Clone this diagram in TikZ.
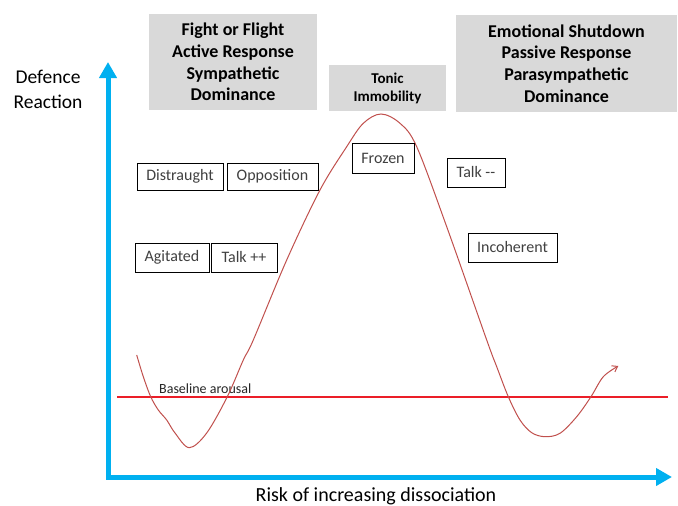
\documentclass[tikz,border=0pt]{standalone}
\usepackage{fontspec}
\setmainfont{Carlito}
\usetikzlibrary{arrows.meta}
\definecolor{axisblue}{RGB}{0,176,240}
\definecolor{curvered}{RGB}{192,80,77}
\definecolor{blred}{RGB}{235,30,40}
\definecolor{headgray}{RGB}{217,217,217}
\definecolor{labelgray}{RGB}{64,64,64}
\tikzset{
  headbox/.style={fill=headgray, draw=none, align=center, inner sep=0pt,
    font=\bfseries\fontsize{18}{21.7}\selectfont},
  smallhead/.style={headbox, font=\bfseries\fontsize{15}{18}\selectfont},
  labelbox/.style={draw=black, line width=1pt, fill=white, text=labelgray,
    inner sep=0pt, minimum height=28pt, font=\fontsize{16}{19}\selectfont},
  axis/.style={draw=axisblue, line width=5pt, line join=miter,
    {Triangle[length=16pt,width=17pt]}-{Triangle[length=16pt,width=17pt]}},
  curve/.style={draw=curvered, line width=1pt, -{Straight Barb[length=5pt,width=7pt]}},
  redline/.style={color=blred, line width=1.1pt},
  axislabel/.style={font=\fontsize{19.5}{25}\selectfont, align=center, inner sep=0pt}
}
\begin{document}
\begin{tikzpicture}[x=1pt,y=-1pt]
\useasboundingbox (0,0) rectangle (678,506);

% axes
\coordinate (ytop) at (108,62);
\coordinate (origin) at (108,477);
\coordinate (xend) at (672,477);
\draw[axis] (ytop) -- (origin) -- (xend);

\node[axislabel] (ylab) at (48,89.5) {Defence\\Reaction};
\node[axislabel, font=\fontsize{20}{24}\selectfont, anchor=base] (xlab) at (376,501) {Risk of increasing dissociation};

% baseline
\coordinate (bl0) at (117,397);
\coordinate (bl1) at (668,397);
\draw[redline] (bl0) -- (bl1);
\node[anchor=base west, inner sep=0pt, text=black!85, font=\fontsize{14}{16}\selectfont] (bltext) at (159,393) {Baseline arousal};

% curve
\draw[curve] plot[smooth, tension=0.55] coordinates {
 (136.7,355) (143.3,376.7) (150.7,396.7) (158.3,410) (166.7,420) (175,433)
 (189.3,447.7) (206.7,433) (227.3,396.7) (243.3,360) (253.3,340)
 (286.7,260) (320,190) (346.7,146.7) (363.3,123.3) (381,114) (400,123.3)
 (416.7,146.7) (446.7,226.7) (486.7,340) (496.7,366.7) (508.3,396.7)
 (520,420) (531.7,432.7) (545,436.7) (560,433.3) (576.7,416.7) (591,396.7)
 (603.3,376.7) (618.3,366)};

% header boxes
\node[headbox, minimum width=168pt, minimum height=96pt] (fight) at (233,62)
  {Fight or Flight\\Active Response\\Sympathetic\\Dominance};
\node[smallhead, minimum width=117pt, minimum height=46pt] (tonic) at (387.5,88)
  {Tonic\\Immobility};
\node[headbox, minimum width=221pt, minimum height=97pt] (shut) at (566.5,63.5)
  {Emotional Shutdown\\Passive Response\\Parasympathetic\\Dominance};

% label boxes
\node[labelbox, minimum width=86pt, minimum height=27pt] (distraught) at (180,176.5) {Distraught};
\node[labelbox, minimum width=91pt, minimum height=27pt] (opposition) at (272.5,176.5) {Opposition};
\node[labelbox, minimum width=74pt, minimum height=29pt] (agitated) at (172,257.5) {Agitated};
\node[labelbox, minimum width=66pt, minimum height=29pt] (talkpp) at (244,257.5) {Talk ++};
\node[labelbox, minimum width=62pt, minimum height=30pt] (frozen) at (383,158) {Frozen};
\node[labelbox, minimum width=58pt, minimum height=29pt] (talkmm) at (476,172.5) {Talk -{}-};
\node[labelbox, minimum width=89pt, minimum height=29pt] (incoherent) at (512.5,247.5) {Incoherent};
\end{tikzpicture}
\end{document}
